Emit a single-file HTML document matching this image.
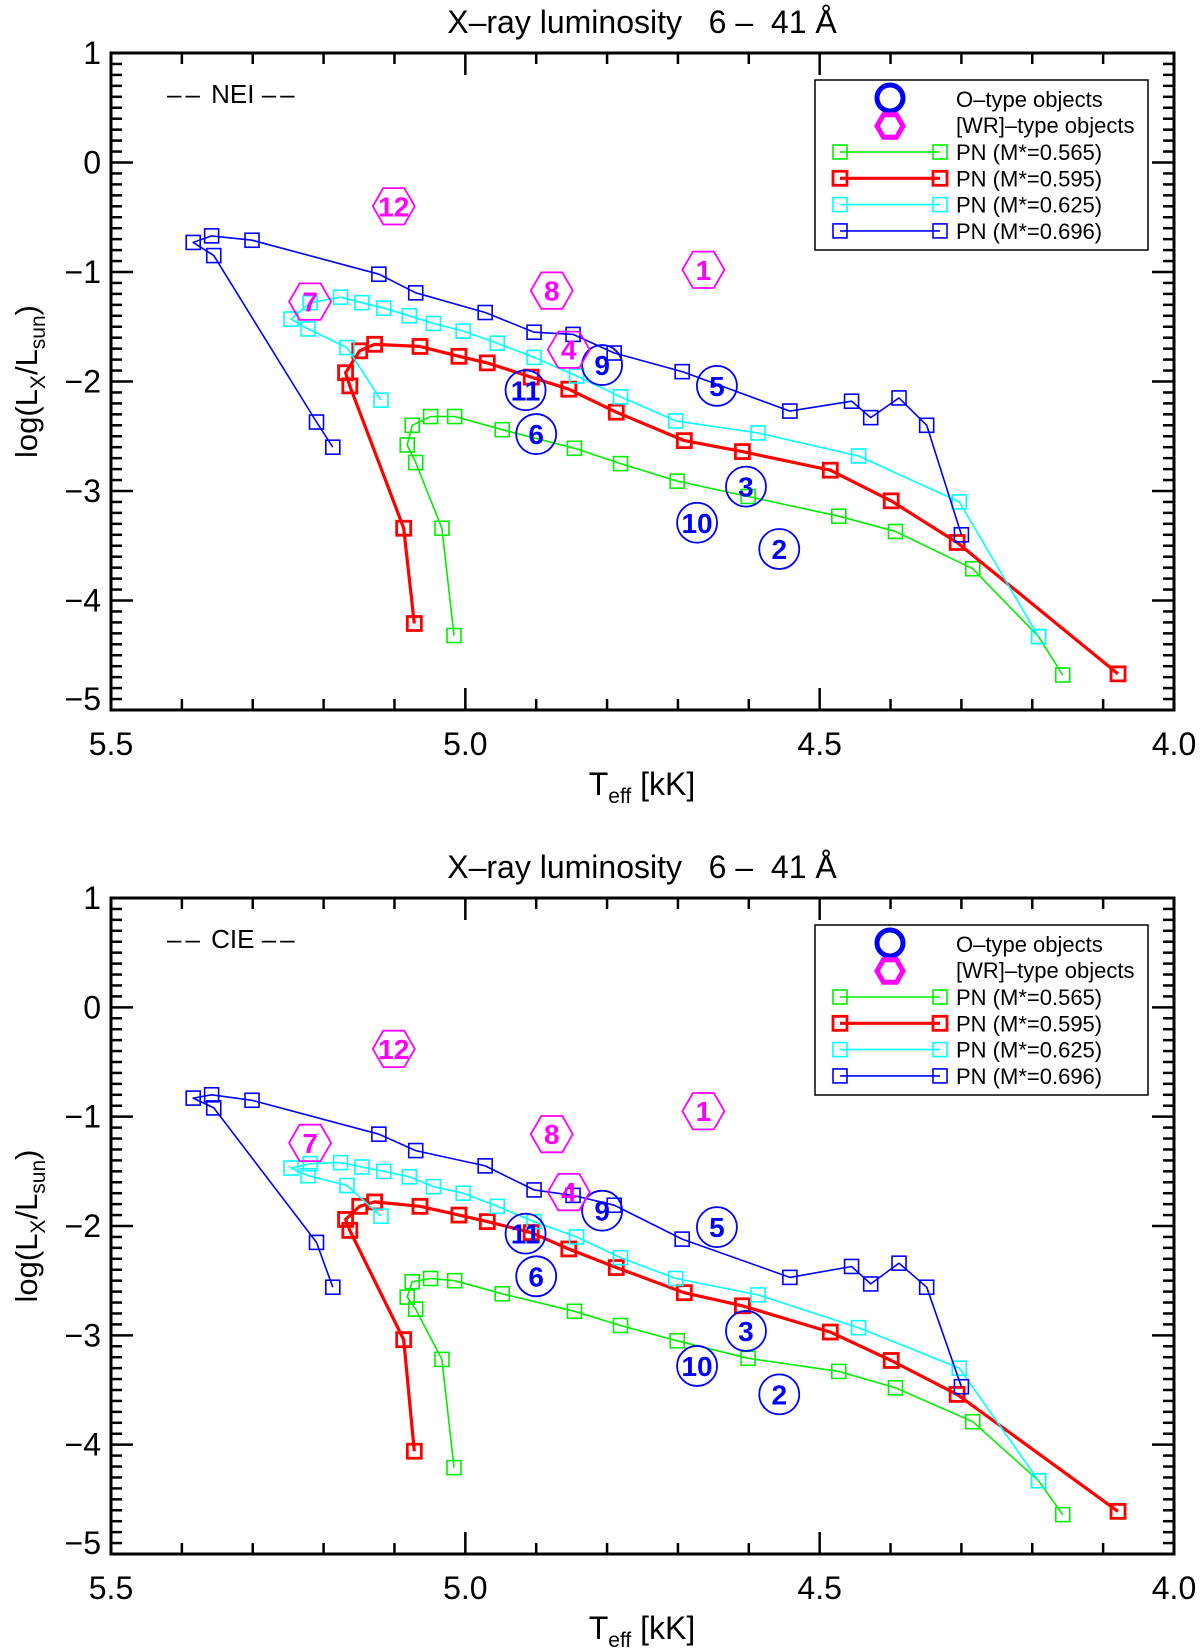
<!DOCTYPE html>
<html><head><meta charset="utf-8"><style>
html,body{margin:0;padding:0;background:#fff;}
svg{display:block;font-family:"Liberation Sans",sans-serif;}
.pre{white-space:pre;}
</style></head><body>
<svg id="fig" width="1200" height="1652" viewBox="0 0 1200 1652" xmlns="http://www.w3.org/2000/svg"></svg>
<script>
// ---- shared data ----
const xTickValues = [5.5, 5.0, 4.5, 4.0];
const xTickLabels = ["5.5", "5.0", "4.5", "4.0"];
const yTickValues = [1, 0, -1, -2, -3, -4, -5];
const yTickLabels = ["1", "0", "\u22121", "\u22122", "\u22123", "\u22124", "\u22125"];
const seriesNames = ["PN (M*=0.565)", "PN (M*=0.595)", "PN (M*=0.625)", "PN (M*=0.696)"];
const oLabels = ["9", "5", "11", "6", "3", "10", "2"];
const oTeff = [4.807, 4.645, 4.915, 4.900, 4.604, 4.673, 4.557];
const wrLabels = ["12", "1", "8", "7", "4"];
const wrTeff = [5.101, 4.664, 4.878, 5.219, 4.854];

// Teff arrays (same for both panels)
const greenTeff = [5.016,5.033,5.070,5.082,5.075,5.049,5.015,4.948,4.846,4.781,4.701,4.601,4.473,4.393,4.284,4.191,4.157];
const redTeff = [5.072,5.087,5.163,5.169,5.149,5.128,5.064,5.009,4.969,4.907,4.854,4.787,4.691,4.609,4.485,4.399,4.306,4.079];
const cyanTeff = [5.119,5.167,5.222,5.246,5.219,5.176,5.146,5.115,5.079,5.045,5.003,4.955,4.903,4.843,4.781,4.703,4.587,4.445,4.303,4.191];
const blueTeff = [5.187,5.210,5.355,5.384,5.358,5.301,5.122,5.070,4.972,4.903,4.848,4.790,4.694,4.542,4.455,4.428,4.388,4.349,4.300];

// NEI panel log(Lx/Lsun)
const neiGreen = [-4.32,-3.34,-2.74,-2.58,-2.40,-2.32,-2.32,-2.44,-2.61,-2.75,-2.91,-3.05,-3.23,-3.37,-3.71,-4.33,-4.68];
const neiRed = [-4.21,-3.34,-2.04,-1.92,-1.72,-1.66,-1.68,-1.77,-1.83,-1.96,-2.07,-2.28,-2.54,-2.64,-2.81,-3.09,-3.47,-4.67];
const neiCyan = [-2.17,-1.69,-1.52,-1.43,-1.28,-1.23,-1.28,-1.33,-1.40,-1.47,-1.54,-1.65,-1.78,-1.95,-2.14,-2.36,-2.47,-2.68,-3.10,-4.33];
const neiBlue = [-2.60,-2.37,-0.85,-0.73,-0.67,-0.71,-1.02,-1.19,-1.37,-1.55,-1.57,-1.74,-1.91,-2.27,-2.18,-2.33,-2.15,-2.40,-3.40];
const neiO = [-1.85,-2.04,-2.08,-2.48,-2.96,-3.29,-3.53];
const neiWR = [-0.40,-0.98,-1.17,-1.27,-1.71];

// CIE panel log(Lx/Lsun)
const cieGreen = [-4.21,-3.22,-2.76,-2.65,-2.51,-2.48,-2.50,-2.62,-2.78,-2.91,-3.05,-3.21,-3.33,-3.48,-3.79,-4.33,-4.64];
const cieRed = [-4.06,-3.04,-2.04,-1.94,-1.82,-1.78,-1.82,-1.90,-1.96,-2.06,-2.21,-2.38,-2.61,-2.73,-2.97,-3.23,-3.54,-4.61];
const cieCyan = [-1.91,-1.63,-1.54,-1.47,-1.43,-1.42,-1.46,-1.50,-1.55,-1.64,-1.70,-1.82,-1.96,-2.10,-2.29,-2.48,-2.63,-2.93,-3.30,-4.33];
const cieBlue = [-2.56,-2.15,-0.92,-0.83,-0.80,-0.85,-1.16,-1.31,-1.45,-1.67,-1.72,-1.81,-2.12,-2.47,-2.37,-2.53,-2.34,-2.56,-3.47];
const cieO = [-1.86,-2.01,-2.07,-2.46,-2.96,-3.28,-3.54];
const cieWR = [-0.38,-0.95,-1.16,-1.24,-1.69];

const NS = "http://www.w3.org/2000/svg";
const svg = document.getElementById('fig');
function mk(tag, attrs, parent, text){
  const e = document.createElementNS(NS, tag);
  for (const k in attrs) e.setAttribute(k, attrs[k]);
  if (text !== undefined) e.textContent = text;
  (parent || svg).appendChild(e);
  return e;
}
const COLORS = ["#00ee00", "#ff0000", "#00ffff", "#0000ff"];
const WIDTHS = [1.6, 3.2, 1.6, 1.6];

function drawPanel(top, bottom, tag, name, series){
  const L = 111, R = 1174;
  const xs = v => L + (5.5 - v) * (R - L) / 1.5;
  const ys = v => top + (1 - v) * (bottom - top) / 6;
  const g = mk('g', {});
  
  

  const title = mk('text', {x: 642, y: top - 20, 'font-size': 32, 'text-anchor': 'middle', 'class': 'pre'}, g, "X\u2013ray luminosity   6 \u2013  41 \u00C5");
  
  

  const frame = mk('rect', {x: L, y: top, width: R - L, height: bottom - top, fill: 'none', stroke: '#000', 'stroke-width': 3}, g);
  
  

  const tg = mk('g', {stroke: '#000', 'stroke-width': 2.5}, g);
  
  
  for (let i = 0; i <= 15; i++) {
    const v = 5.5 - i * 0.1;
    const x = xs(v);
    const len = (i % 5 === 0) ? 22 : 11;
    mk('line', {x1: x, y1: bottom, x2: x, y2: bottom - len}, tg);
    mk('line', {x1: x, y1: top, x2: x, y2: top + len}, tg);
  }
  for (let i = 0; i <= 60; i++) {
    const v = 1 - i * 0.1;
    const y = ys(v);
    const len = (i % 10 === 0) ? 22 : 11;
    mk('line', {x1: L, y1: y, x2: L + len, y2: y}, tg);
    mk('line', {x1: R, y1: y, x2: R - len, y2: y}, tg);
  }
  xTickValues.forEach((v, i) => {
    const t = mk('text', {x: xs(v), y: bottom + 45, 'font-size': 32, 'text-anchor': 'middle'}, g, xTickLabels[i]);
    
    
  });
  yTickValues.forEach((v, i) => {
    const t = mk('text', {x: 101, y: ys(v) + (v === -5 ? 0 : 11), 'font-size': 32, 'text-anchor': 'end'}, g, yTickLabels[i]);
    
    
  });
  const xt = mk('text', {x: 642, y: bottom + 85, 'font-size': 32, 'text-anchor': 'middle'}, g);
  
  
  mk('tspan', {}, xt, "T");
  mk('tspan', {'font-size': 21, dy: 8}, xt, "eff");
  mk('tspan', {dy: -8}, xt, " [kK]");
  const cy = (top + bottom) / 2;
  const yt = mk('text', {x: 0, y: 0, 'font-size': 31, 'text-anchor': 'middle', transform: `translate(37,${cy}) rotate(-90)`}, g);
  
  
  mk('tspan', {}, yt, "log(L");
  mk('tspan', {'font-size': 21, dy: 8}, yt, "X");
  mk('tspan', {dy: -8}, yt, "/L");
  mk('tspan', {'font-size': 21, dy: 8}, yt, "sun");
  mk('tspan', {dy: -8}, yt, ")");

  const tagT = mk('text', {x: 167, y: top + 50, 'font-size': 26, 'class': 'pre'}, g);
  
  
  mk('tspan', {'letter-spacing': 4}, tagT, "\u2013\u2013");
  mk('tspan', {}, tagT, " " + tag + " ");
  mk('tspan', {'letter-spacing': 4}, tagT, "\u2013\u2013");

  const teffs = [greenTeff, redTeff, cyanTeff, blueTeff];
  series.slice(0, 4).forEach((vals, s) => {
    const sg = mk('g', {}, g);
    
    
    const pts = vals.map((v, i) => xs(teffs[s][i]).toFixed(1) + ',' + ys(v).toFixed(1)).join(' ');
    const pl = mk('polyline', {points: pts, fill: 'none', stroke: COLORS[s], 'stroke-width': WIDTHS[s], 'stroke-linejoin': 'round'}, sg);
    
    
    vals.forEach((v, i) => {
      const x = xs(teffs[s][i]), y = ys(v);
      const sq = mk('rect', {x: x - 7, y: y - 7, width: 14, height: 14, fill: 'none', stroke: COLORS[s], 'stroke-width': s === 1 ? 2.8 : 1.6}, sg);
      
      
    });
  });
  const oVals = series[4], wVals = series[5];
  oVals.forEach((v, i) => {
    const x = xs(oTeff[i]), y = ys(v);
    const c = mk('circle', {cx: x, cy: y, r: 20, fill: 'none', stroke: '#0000ff', 'stroke-width': 1.8}, g);
    
    
    const t = mk('text', {x: x, y: y + 10, 'font-size': 28, 'font-weight': 'bold', fill: '#0000ff', 'text-anchor': 'middle'}, g, oLabels[i]);
    
    
  });
  wVals.forEach((v, i) => {
    const x = xs(wrTeff[i]), y = ys(v), r = 21;
    let p = [];
    for (let k = 0; k < 6; k++) { const a = Math.PI / 3 * k; p.push((x + r * Math.cos(a)).toFixed(1) + ',' + (y + r * Math.sin(a)).toFixed(1)); }
    const h = mk('polygon', {points: p.join(' '), fill: 'none', stroke: '#ff00ff', 'stroke-width': 1.8}, g);
    
    
    const t = mk('text', {x: x, y: y + 10, 'font-size': 28, 'font-weight': 'bold', fill: '#ff00ff', 'text-anchor': 'middle'}, g, wrLabels[i]);
    
    
  });

  const off = top - 53;
  const lg = mk('g', {}, g);
  
  
  mk('rect', {x: 815, y: 80 + off, width: 333, height: 170, fill: '#fff', stroke: '#000', 'stroke-width': 1.5}, lg);
  const lc = mk('circle', {cx: 890, cy: 98 + off, r: 13, fill: 'none', stroke: '#0000ff', 'stroke-width': 5}, lg);
  
  
  let hp = [];
  for (let k = 0; k < 6; k++) { const a = Math.PI / 3 * k; hp.push((890 + 13 * Math.cos(a)).toFixed(1) + ',' + (126 + off + 13 * Math.sin(a)).toFixed(1)); }
  mk('polygon', {points: hp.join(' '), fill: 'none', stroke: '#ff00ff', 'stroke-width': 5}, lg);
  const e1 = mk('text', {x: 956, y: 107 + off, 'font-size': 22}, lg, "O\u2013type objects");
  
  
  const e2 = mk('text', {x: 956, y: 133 + off, 'font-size': 22}, lg, "[WR]\u2013type objects");
  
  
  seriesNames.forEach((n, s) => {
    const y = 152 + off + s * 26.3;
    mk('line', {x1: 840, y1: y, x2: 940, y2: y, stroke: COLORS[s], 'stroke-width': WIDTHS[s]}, lg);
    mk('rect', {x: 833, y: y - 7, width: 14, height: 14, fill: 'none', stroke: COLORS[s], 'stroke-width': s === 1 ? 2.8 : 1.6}, lg);
    mk('rect', {x: 933, y: y - 7, width: 14, height: 14, fill: 'none', stroke: COLORS[s], 'stroke-width': s === 1 ? 2.8 : 1.6}, lg);
    const t = mk('text', {x: 956, y: y + 8, 'font-size': 22}, lg, n);
    
    
  });
}

drawPanel(53, 710, "NEI", "nei", [neiGreen, neiRed, neiCyan, neiBlue, neiO, neiWR]);
drawPanel(898, 1554, "CIE", "cie", [cieGreen, cieRed, cieCyan, cieBlue, cieO, cieWR]);
</script>
</body></html>
